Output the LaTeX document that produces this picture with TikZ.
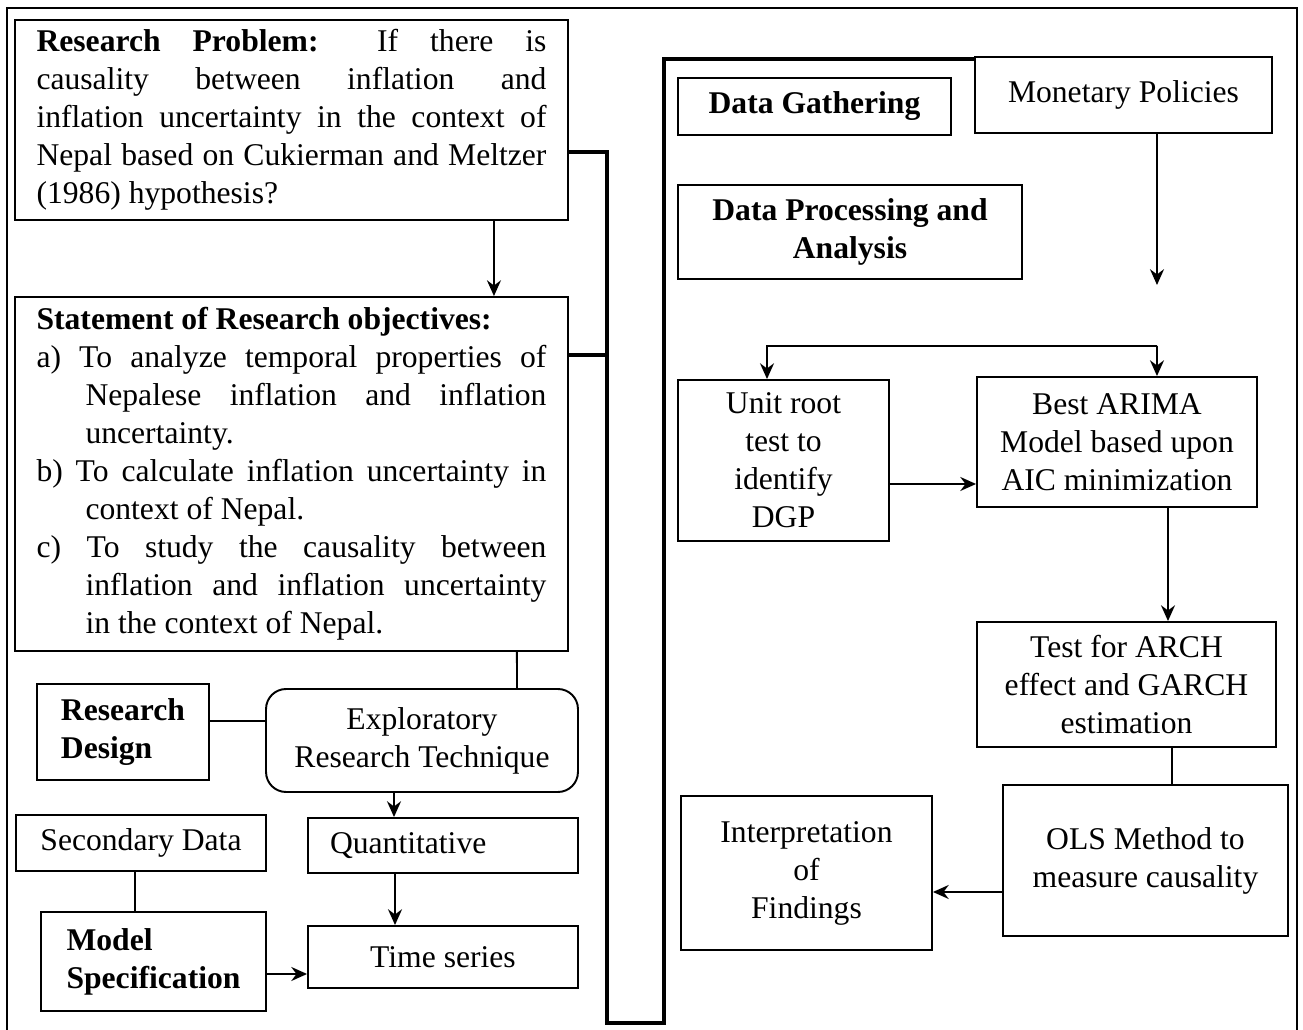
\documentclass[tikz,border=0pt]{standalone}
\usepackage{fontspec}
\setmainfont{Liberation Serif}
\usetikzlibrary{arrows.meta}

\begin{document}
\begin{tikzpicture}[x=0.02cm, y=-0.02cm, line width=1.1pt,
        box/.style = {draw, rectangle, inner sep=0pt, align=center, font=\fontsize{18}{21.6}\selectfont},
        head/.style = {box, font=\fontsize{18}{21.6}\selectfont\bfseries},
        arr/.style = {-{Stealth[length=9pt,width=8pt,inset=3pt]}},
        bracket/.style = {line width=2.8pt}]
        \useasboundingbox (0,0) rectangle (1303,1030);
        \draw[line width=0.6pt] (7,1030) |- (1297,8) -- (1297,1030);

        \node[box, minimum width=11.06cm, minimum height=4cm, text width=10.2cm, align=justify] at (291.5,120) (prob)
            {\textbf{Research Problem:} If there is\linebreak causality between inflation and\linebreak inflation uncertainty in the context of\linebreak Nepal based on Cukierman and Meltzer\linebreak (1986) hypothesis?};
        \node[box, minimum width=11.06cm, minimum height=7.08cm, text width=10.2cm, align=justify] at (291.5,474) (obj)
            {\textbf{Statement of Research objectives:}\par
            \hangindent=0.98cm\hangafter=1 a) To analyze temporal properties of\linebreak Nepalese inflation and inflation\linebreak uncertainty.\par
            \hangindent=0.98cm\hangafter=1 b) To calculate inflation uncertainty in\linebreak context of Nepal.\par
            \hangindent=0.98cm\hangafter=1 c) To study the causality between\linebreak inflation and inflation uncertainty\linebreak in the context of Nepal.\par};
        \node[head, align=left, minimum width=3.44cm, minimum height=1.92cm] at (123,732) (rdes) {Research\\Design};
        \node[box, rounded corners=0.4cm, minimum width=6.24cm, minimum height=2.06cm] at (422,740.5) (expl) {Exploratory\\Research Technique};
        \node[box, minimum width=5cm, minimum height=1.12cm] at (141,843) (secdata) {Secondary Data};
        \node[box, minimum width=5.4cm, minimum height=1.1cm, text width=4.52cm, align=left] at (443,845.5) (quant) {Quantitative};
        \node[head, align=left, minimum width=4.5cm, minimum height=1.98cm] at (153.5,961.5) (model) {Model\\Specification};
        \node[box, minimum width=5.4cm, minimum height=1.24cm] at (443,957) (tseries) {Time series};

        \node[head, minimum width=5.46cm, minimum height=1.14cm] at (814.5,106.5) (gath) {Data Gathering};
        \node[box, minimum width=5.94cm, minimum height=1.52cm] at (1123.5,95) (monet) {Monetary Policies};
        \node[head, minimum width=6.88cm, minimum height=1.88cm] at (850,232) (proc) {Data Processing and\\Analysis};
        \node[box, minimum width=4.22cm, minimum height=3.22cm] at (783.5,460.5) (unit) {Unit root\\test to\\identify\\DGP};
        \node[box, minimum width=5.6cm, minimum height=2.6cm] at (1117,442) (best) {Best ARIMA\\Model based upon\\AIC minimization};
        \node[box, minimum width=5.98cm, minimum height=2.5cm] at (1126.5,684.5) (test) {Test for ARCH\\effect and GARCH\\estimation};
        \node[box, minimum width=5.7cm, minimum height=3.02cm] at (1145.5,860.5) (ols) {OLS Method to\\measure causality};
        \node[box, minimum width=5.02cm, minimum height=3.08cm] at (806.5,873) (interp) {Interpretation\\of\\Findings};

        \coordinate (brA) at (607,1023);
        \coordinate (brB) at (664,1023);
        \coordinate (split) at (1157,285);
        \coordinate (fork) at (1157,346);

        \draw[arr] ([xshift=4.05cm]prob.south) -- ([xshift=4.05cm]obj.north);
        \draw ([xshift=4.51cm]obj.south) -- ([xshift=1.9cm]expl.north);
        \draw ([yshift=0.22cm]rdes.east) -- ([yshift=0.39cm]expl.west);
        \draw[arr] ([xshift=-0.56cm]expl.south) -- ([xshift=-0.98cm]quant.north);
        \draw[arr] ([xshift=-0.96cm]quant.south) -- ([xshift=-0.96cm]tseries.north);
        \draw ([xshift=-0.12cm]secdata.south) -- ([xshift=-0.37cm]model.north);
        \draw[arr] ([yshift=-0.25cm]model.east) -- ([yshift=-0.34cm]tseries.west);

        \draw[bracket] ([yshift=-0.64cm]prob.east) -| (brA) -- (brB) |- ([yshift=-0.06cm]monet.north west);
        \draw[bracket] ([yshift=2.38cm]obj.east) -| (brA);

        \draw[arr] ([xshift=0.67cm]monet.south) -- (split);
        \draw[arr] (fork) -| ([xshift=-0.33cm]unit.north);
        \draw[arr] (fork) -- ([xshift=0.8cm]best.north);
        \draw[arr] ([yshift=-0.47cm]unit.east) -- ([yshift=-0.84cm]best.west);
        \draw[arr] ([xshift=1.02cm]best.south) -- ([xshift=0.83cm]test.north);
        \draw ([xshift=0.91cm]test.south) -- ([xshift=0.53cm]ols.north);
        \draw[arr] ([yshift=-0.63cm]ols.west) -- ([yshift=-0.38cm]interp.east);
    \end{tikzpicture}
\end{document}
